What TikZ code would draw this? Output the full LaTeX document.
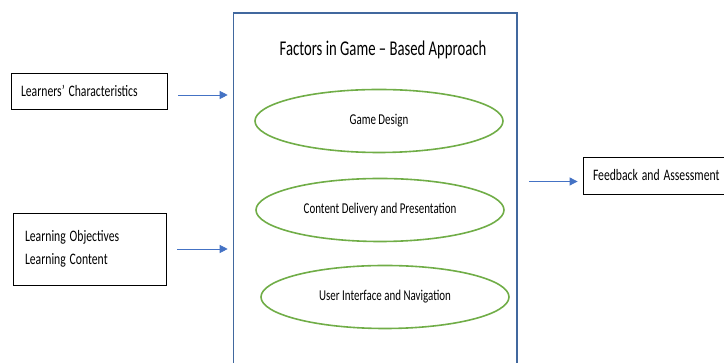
\documentclass[tikz,border=0pt]{standalone}
\usepackage{fontspec}
\setmainfont{Carlito}
\usepackage{graphicx}
\usetikzlibrary{shapes.geometric,arrows.meta}

\definecolor{frameBlue}{HTML}{41689E}
\definecolor{arrowBlue}{HTML}{4472C4}
\definecolor{ovalGreen}{HTML}{70AD47}

\newcommand{\squeeze}{0.73}
\newcommand{\sq}[1]{\scalebox{\squeeze}[1]{#1}}
\newcommand{\labelFont}{\fontsize{16}{23}\selectfont}
\newcommand{\ovalFont}{\fontsize{15}{18}\selectfont}
\newcommand{\titleFont}{\fontsize{21}{24}\selectfont}
\newcommand{\gapStart}{11pt}
\newcommand{\gapEnd}{5pt}

\tikzset{
  inbox/.style={draw=black, line width=0.8pt, align=left, font=\labelFont, inner xsep=10pt, anchor=center},
  factor/.style={draw=ovalGreen, line width=1.6pt, ellipse, minimum width=248pt, minimum height=63pt, inner sep=0pt, font=\ovalFont},
  flow/.style={draw=arrowBlue, line width=0.8pt, -{Triangle[length=8pt,width=8pt]}, shorten <=\gapStart, shorten >=\gapEnd}
}

\begin{document}
\begin{tikzpicture}[x=1pt,y=1pt]
        \clip (0,0) rectangle (724,363);

        % Main frame
        \node[draw=frameBlue, line width=1.6pt, minimum width=283.5pt, minimum height=360pt, inner sep=0pt] (frame) at (375.25,170) {};
        \node[font=\titleFont] (title) at (383,313) {\scalebox{0.70}[1]{Factors in Game -- Based Approach}};

        % Factors
        \node[factor] (design) at (379,242) {\sq{Game Design}};
        \node[factor] (delivery) at (380,153) {\sq{Content Delivery and Presentation}};
        \node[factor] (interface) at (385,66) {\sq{User Interface and Navigation}};

        % Inputs
        \node[inbox, text width=136pt, minimum height=36pt] (learners) at (89,272) {\sq{Learners' Characteristics}};
        \node[inbox, text width=129pt, inner xsep=12pt, minimum height=72pt] (objectives) at (89.5,114) {\sq{Learning Objectives}\\\sq{Learning Content}};

        % Output
        \node[inbox, text width=127pt, minimum height=37pt] (feedback) at (656.5,187.5) {\sq{Feedback and Assessment}};

        % Arrows
        \draw[flow] ([yshift=-4pt]learners.east) -- ([yshift=-4pt]learners.east -| frame.west);
        \draw[flow] (objectives.east) -- (objectives.east -| frame.west);
        \draw[flow] ([yshift=-6pt]frame.east |- feedback.west) -- ([yshift=-6pt]feedback.west);
    \end{tikzpicture}
\end{document}
